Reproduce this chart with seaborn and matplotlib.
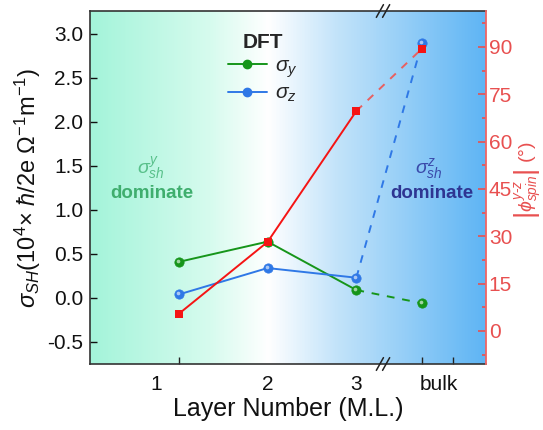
import numpy as np
import pandas as pd
import matplotlib
matplotlib.use("Agg")
import matplotlib.pyplot as plt
from matplotlib.colors import LinearSegmentedColormap
from matplotlib.lines import Line2D
import seaborn as sns

# ---- data ----
layers = ["1", "2", "3", "bulk"]
layer_pos = [1.0, 2.0, 3.0, 3.74]
sigma_y = [0.41, 0.64, 0.09, -0.06]
sigma_z = [0.04, 0.34, 0.23, 2.90]
phi_spin = [5.4, 28.2, 69.7, 89.5]
left_ticks = [-0.5, 0.0, 0.5, 1.0, 1.5, 2.0, 2.5, 3.0]
right_ticks = [0, 15, 30, 45, 60, 75, 90]

sns.set_theme(style="white")
plt.rcParams["font.family"] = ["Liberation Sans", "DejaVu Sans"]
plt.rcParams["mathtext.fontset"] = "custom"
plt.rcParams["mathtext.rm"] = "Liberation Sans"
plt.rcParams["mathtext.it"] = "Liberation Sans:italic"
plt.rcParams["mathtext.bf"] = "Liberation Sans:bold"

fig = plt.figure(figsize=(5.43, 4.30), dpi=100)
ax = fig.add_axes([90/543, 1-364/430, 396/543, 353/430])

# gradient background
cmap = LinearSegmentedColormap.from_list(
    "bg", [(0.0, "#a4f4da"), (0.30, "#d6fbee"), (0.45, "#ffffff"),
           (0.62, "#c4e4fa"), (1.0, "#5fb5f4")])
grad = np.linspace(0, 1, 400)[None, :]
ax.imshow(grad, extent=[0, 1, 0, 1], transform=ax.transAxes, cmap=cmap,
          aspect="auto", zorder=0)

ax.set_xlim(0.0, 4.46)
ax.set_ylim(-0.75, 3.26)

green = "#16951a"
blue = "#2f78e6"
red = "#f51414"

df = pd.DataFrame({"x": layer_pos, "sy": sigma_y, "sz": sigma_z, "phi": phi_spin})
solid = df.iloc[:3]
dash = df.iloc[2:]

for col, c in [("sy", green), ("sz", blue)]:
    sns.lineplot(data=solid, x="x", y=col, ax=ax, color=c, lw=1.4, zorder=3)
    sns.lineplot(data=dash, x="x", y=col, ax=ax, color=c, lw=1.4,
                 linestyle=(0, (4, 4)), zorder=3)
    sns.scatterplot(data=df, x="x", y=col, ax=ax, color=c, s=45,
                    edgecolor=c, linewidth=0.5, zorder=4)
    ax.scatter(df["x"] - 0.012, df[col] + 0.012, s=7, color="white",
               alpha=0.6, zorder=5, linewidths=0)

ax2 = ax.twinx()
ax2.set_ylim(-10.5, 101.4)
sns.lineplot(data=solid, x="x", y="phi", ax=ax2, color=red, lw=1.4, zorder=3)
sns.lineplot(data=dash, x="x", y="phi", ax=ax2, color="#e86060", lw=1.4,
             linestyle=(0, (4, 4)), zorder=3)
sns.scatterplot(data=df, x="x", y="phi", ax=ax2, color=red, marker="s",
                s=40, linewidth=0, zorder=4)

# x ticks: minor ticks at data, labels slightly offset like the original
ax.set_xticks([0.746, 2.0, 3.0, 3.93])
ax.set_xticklabels(layers)
ax.set_xticks([1.0, 2.0, 3.0, 3.74, 4.09], minor=True)
ax.tick_params(axis="x", which="major", length=0, pad=8, labelsize=15,
               colors="#111111")
ax.tick_params(axis="x", which="minor", length=5, direction="in",
               width=1, color="#222222", bottom=True)

ax.set_yticks(left_ticks)
ax.set_yticklabels([f"{v:.1f}" for v in left_ticks])
ax.tick_params(axis="y", which="major", length=5, direction="in", width=1,
               labelsize=15, colors="#111111", left=True, pad=5)

ax2.set_yticks(right_ticks)
ax2.set_yticks(np.arange(-7.5, 100, 7.5), minor=True)
ax2.tick_params(axis="y", which="major", length=6, direction="in", width=1.2,
                labelsize=15, colors="#e85050", right=True, pad=2)
ax2.tick_params(axis="y", which="minor", length=3, direction="in", width=1.2,
                color="#e85050", right=True)

for s in ["left", "bottom", "top"]:
    ax.spines[s].set_color("#333333")
    ax.spines[s].set_linewidth(1.2)
ax.spines["right"].set_visible(False)
ax2.spines["right"].set_color("#f06565")
ax2.spines["right"].set_linewidth(1.3)
for s in ["left", "bottom", "top"]:
    ax2.spines[s].set_visible(False)

ax.set_xlabel("Layer Number (M.L.)", fontsize=18, labelpad=2, color="#111111")
ax.set_ylabel(r"$\sigma_{SH}$(10$^4$× $\hbar$/2e Ω$^{-1}$m$^{-1}$)",
              fontsize=17, labelpad=3, color="#111111")
ax2.set_ylabel(r"$\left|\phi^{y\text{-}z}_{spin}\right|$ (°)", fontsize=14,
               color="#e85050")
ax2.yaxis.set_label_coords(1.066, 0.52)

# axis break marks
for yb in (0.0, 1.0):
    for dx in (-0.035, 0.035):
        xb = 3.30 + dx
        ax.plot([xb - 0.04, xb + 0.04], [yb - 0.018, yb + 0.018], color="#222222",
                lw=1.1, transform=ax.get_xaxis_transform(), clip_on=False, zorder=6)

# annotations
ax.text(0.68, 1.47, r"$\sigma^{y}_{sh}$", color="#58c08a", fontsize=14,
        ha="center", va="center")
ax.text(0.70, 1.19, "dominate", color="#3fae6e", fontsize=13.5, weight="bold",
        ha="center", va="center")
ax.text(3.82, 1.47, r"$\sigma^{z}_{sh}$", color="#3a4aaa", fontsize=14,
        ha="center", va="center")
ax.text(3.85, 1.19, "dominate", color="#2e3592", fontsize=13.5, weight="bold",
        ha="center", va="center")

handles = [Line2D([0], [0], color=green, marker="o", ms=6, lw=1.4),
           Line2D([0], [0], color=blue, marker="o", ms=6, lw=1.4)]
leg = ax.legend(handles, [r"$\sigma_y$", r"$\sigma_z$"], title="DFT",
                loc="upper left", bbox_to_anchor=(0.30, 0.99), frameon=False,
                fontsize=15, handlelength=1.9, labelspacing=0.2,
                handletextpad=0.4,
                title_fontproperties={"weight": "bold", "size": 15})

fig.savefig("out.png", dpi=100)
